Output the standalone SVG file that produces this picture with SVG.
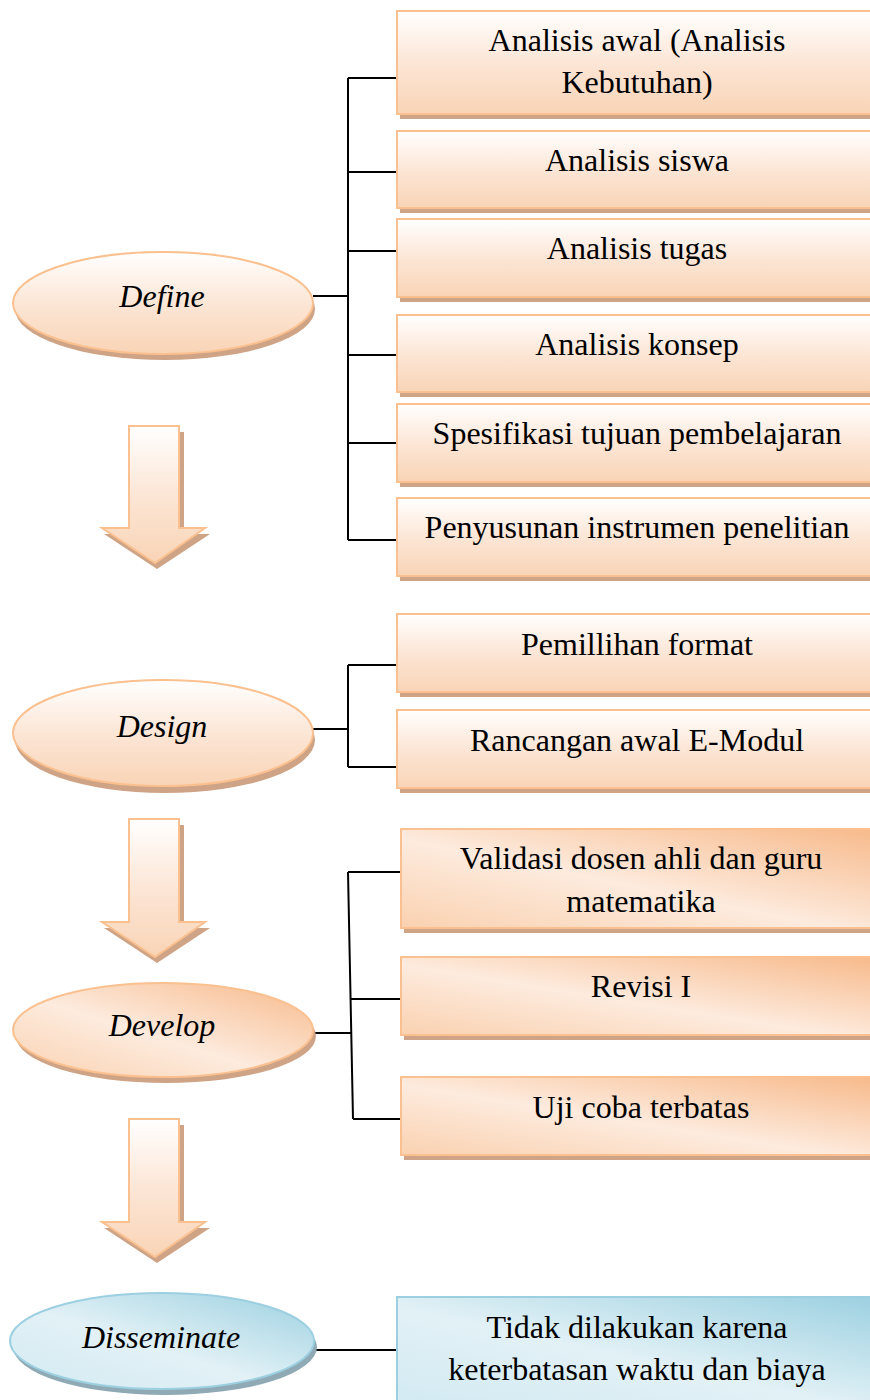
<svg xmlns="http://www.w3.org/2000/svg" width="870" height="1400" viewBox="0 0 870 1400">
<defs>
<linearGradient id="gO" x1="0" y1="0" x2="0" y2="1">
<stop offset="0" stop-color="#FFFFFF"/>
<stop offset="0.5" stop-color="#FCE6D6"/>
<stop offset="1" stop-color="#F9D4B6"/>
</linearGradient>
<linearGradient id="gOD" x1="0" y1="1" x2="1" y2="0">
<stop offset="0" stop-color="#FAD1B0"/>
<stop offset="0.45" stop-color="#FDEBDE"/>
<stop offset="1" stop-color="#F7B98A"/>
</linearGradient>
<linearGradient id="gB" x1="0" y1="1" x2="1" y2="0">
<stop offset="0" stop-color="#D3EAF2"/>
<stop offset="0.45" stop-color="#E2F1F6"/>
<stop offset="1" stop-color="#9CD0E1"/>
</linearGradient>
<style>
.box{fill:url(#gO);stroke:#FAC08F;stroke-width:2}
.boxd{fill:url(#gOD);stroke:#FAC08F;stroke-width:2}
.boxb{fill:url(#gB);stroke:#9CCFE0;stroke-width:2}
.sh{fill:#CFA385}
.shb{fill:#8FAAB5}
.t{font-family:"Liberation Serif","Times New Roman",serif;font-size:32px;fill:#000;text-anchor:middle}
.ti{font-style:italic}
.ln{stroke:#000;stroke-width:2;fill:none}
</style>
</defs>

<g id="arrows">
<g id="arrow1">
<path d="M134,432 h50 v102 h26 l-53,35 l-53,-35 h26 z" class="sh"/>
<path d="M129,426 h50 v102 h26 l-50,35 l-53,-35 h27 z" class="box"/>
</g>
<g id="arrow2">
<path d="M134,825 h50 v103 h26 l-53,35 l-53,-35 h26 z" class="sh"/>
<path d="M129,819 h50 v103 h26 l-50,35 l-53,-35 h27 z" class="box"/>
</g>
<g id="arrow3">
<path d="M134,1125 h50 v103 h26 l-53,35 l-53,-35 h26 z" class="sh"/>
<path d="M129,1119 h50 v103 h26 l-50,35 l-53,-35 h27 z" class="box"/>
</g>
</g>

<g id="connectors">
<path class="ln" d="M313,296 H348 M348,78 V540 M348,78 H397 M348,172 H397 M348,251 H397 M348,355 H397 M348,443 H397 M348,540 H397"/>
<path class="ln" d="M313,729 H348 M348,665 V767 M348,665 H397 M348,767 H397"/>
<path class="ln" d="M313,1033 H351 M348,872 L353,1119 M348,872 H401 M351,999 H401 M353,1119 H401"/>
<path class="ln" d="M315,1350 H397"/>
</g>

<g id="define">
<ellipse cx="165" cy="309" rx="150" ry="51" class="sh"/>
<ellipse cx="163" cy="303" rx="150" ry="51" class="box"/>
<text x="162" y="307" class="t ti">Define</text>
</g>
<g id="design">
<ellipse cx="165" cy="740" rx="150" ry="53" class="sh"/>
<ellipse cx="163" cy="733" rx="150" ry="53" class="box"/>
<text x="162" y="737" class="t ti">Design</text>
</g>
<g id="develop">
<ellipse cx="166" cy="1036" rx="150" ry="47" class="sh"/>
<ellipse cx="163" cy="1030" rx="150" ry="47" class="boxd"/>
<text x="162" y="1036" class="t ti">Develop</text>
</g>
<g id="disseminate">
<ellipse cx="165" cy="1347" rx="152" ry="48" class="shb"/>
<ellipse cx="162" cy="1341" rx="152" ry="48" class="boxb"/>
<text x="161" y="1348" class="t ti">Disseminate</text>
</g>

<g id="b1"><rect x="400" y="16" width="480" height="103" class="sh"/><rect x="397" y="11" width="480" height="103" class="box"/><text x="637" y="51" class="t">Analisis awal (Analisis</text><text x="637" y="93" class="t">Kebutuhan)</text></g>
<g id="b2"><rect x="400" y="136" width="480" height="77" class="sh"/><rect x="397" y="131" width="480" height="77" class="box"/><text x="637" y="171" class="t">Analisis siswa</text></g>
<g id="b3"><rect x="400" y="224" width="480" height="78" class="sh"/><rect x="397" y="219" width="480" height="78" class="box"/><text x="637" y="259" class="t">Analisis tugas</text></g>
<g id="b4"><rect x="400" y="320" width="480" height="77" class="sh"/><rect x="397" y="315" width="480" height="77" class="box"/><text x="637" y="355" class="t">Analisis konsep</text></g>
<g id="b5"><rect x="400" y="409" width="480" height="78" class="sh"/><rect x="397" y="404" width="480" height="78" class="box"/><text x="637" y="444" class="t">Spesifikasi tujuan pembelajaran</text></g>
<g id="b6"><rect x="400" y="503" width="480" height="78" class="sh"/><rect x="397" y="498" width="480" height="78" class="box"/><text x="637" y="538" class="t">Penyusunan instrumen penelitian</text></g>

<g id="b7"><rect x="400" y="619" width="480" height="78" class="sh"/><rect x="397" y="614" width="480" height="78" class="box"/><text x="637" y="655" class="t">Pemillihan format</text></g>
<g id="b8"><rect x="400" y="715" width="480" height="78" class="sh"/><rect x="397" y="710" width="480" height="78" class="box"/><text x="637" y="751" class="t">Rancangan awal E-Modul</text></g>

<g id="b9"><rect x="404" y="834" width="480" height="99" class="sh"/><rect x="401" y="829" width="480" height="99" class="boxd"/><text x="641" y="869" class="t">Validasi dosen ahli dan guru</text><text x="641" y="912" class="t">matematika</text></g>
<g id="b10"><rect x="404" y="962" width="480" height="78" class="sh"/><rect x="401" y="957" width="480" height="78" class="boxd"/><text x="641" y="997" class="t">Revisi I</text></g>
<g id="b11"><rect x="404" y="1082" width="480" height="78" class="sh"/><rect x="401" y="1077" width="480" height="78" class="boxd"/><text x="641" y="1118" class="t">Uji coba terbatas</text></g>

<g id="b12"><rect x="400" y="1302" width="480" height="105" class="shb"/><rect x="397" y="1297" width="480" height="105" class="boxb"/><text x="637" y="1338" class="t">Tidak dilakukan karena</text><text x="637" y="1380" class="t">keterbatasan waktu dan biaya</text></g>
</svg>
